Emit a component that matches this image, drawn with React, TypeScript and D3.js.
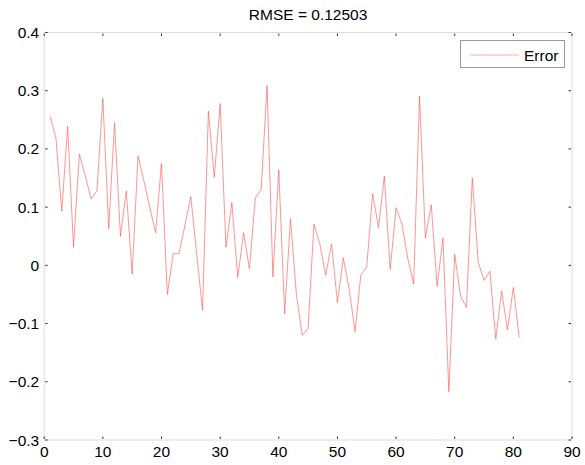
import React from "react";
import * as d3 from "d3";

const xValues: number[] = Array.from({ length: 81 }, (_, i) => i + 1);
const errorValues: number[] = [
  0.256, 0.219, 0.093, 0.239, 0.031, 0.191, 0.154, 0.114, 0.128, 0.287,
  0.063, 0.245, 0.05, 0.128, -0.015, 0.188, 0.145, 0.1, 0.056, 0.175,
  -0.05, 0.02, 0.02, 0.069, 0.118, 0.02, -0.077, 0.265, 0.151, 0.278,
  0.031, 0.108, -0.021, 0.056, -0.006, 0.116, 0.13, 0.309, -0.02, 0.164,
  -0.083, 0.08, -0.05, -0.12, -0.108, 0.071, 0.037, -0.017, 0.037, -0.064,
  0.013, -0.04, -0.114, -0.016, -0.003, 0.123, 0.065, 0.153, -0.007, 0.099,
  0.071, 0.012, -0.032, 0.291, 0.047, 0.104, -0.036, 0.047, -0.217, 0.019,
  -0.053, -0.072, 0.15, 0.006, -0.026, -0.01, -0.127, -0.044, -0.111, -0.038,
  -0.124,
];
const xTicks: number[] = [0, 10, 20, 30, 40, 50, 60, 70, 80, 90];
const yTicks: number[] = [-0.3, -0.2, -0.1, 0, 0.1, 0.2, 0.3, 0.4];
const titleText = "RMSE = 0.12503";
const legendLabel = "Error";

export default function App() {
  const W = 585, H = 465;
  const L = 44.2, R = 572, T = 32.5, B = 440;
  const x = d3.scaleLinear().domain([0, 90]).range([L, R]);
  const y = d3.scaleLinear().domain([-0.3, 0.4]).range([B, T]);
  const line = d3
    .line<number>()
    .x((_, i) => x(xValues[i]))
    .y((d) => y(d));
  const font = "Liberation Sans, Arial, sans-serif";
  const tickColor = "#333";
  const tl = 2.5;
  const fs = 15.5;
  const fmt = (t: number) => {
    const s = d3.format(".1f")(t);
    return s === "0.0" || s === "-0.0" ? "0" : s;
  };
  return (
    <svg
      width={W}
      height={H}
      style={{ position: "absolute", left: 0, top: 0, background: "#fff" }}
      fontFamily={font}
    >
      <rect x={0} y={0} width={W} height={H} fill="#fff" />
      {/* axes box */}
      <rect x={L} y={T} width={R - L} height={B - T} fill="none" stroke="#dcdcdc" strokeWidth={1} />
      {/* x ticks */}
      {xTicks.map((t) => (
        <g key={"xt" + t}>
          <line x1={x(t)} x2={x(t)} y1={T + 1} y2={T + 1 + tl} stroke={tickColor} strokeWidth={1} />
          <line x1={x(t)} x2={x(t)} y1={B - 1} y2={B - 1 - tl} stroke={tickColor} strokeWidth={1} />
          <text x={x(t)} y={B + 17} fontSize={fs} textAnchor="middle" fill="#000">
            {t}
          </text>
        </g>
      ))}
      {/* y ticks */}
      {yTicks.map((t) => (
        <g key={"yt" + t}>
          <line x1={L + 1} x2={L + 1 + tl} y1={y(t)} y2={y(t)} stroke={tickColor} strokeWidth={1} />
          <line x1={R - 1} x2={R - 1 - tl} y1={y(t)} y2={y(t)} stroke={tickColor} strokeWidth={1} />
          <text x={L - 5} y={y(t) + 5.5} fontSize={fs} textAnchor="end" fill="#000">
            {fmt(t)}
          </text>
        </g>
      ))}
      {/* data line */}
      <path d={line(errorValues) || ""} fill="none" stroke="#ff4d4d" strokeWidth={0.8} strokeOpacity={0.75} />
      {/* title */}
      <text x={(L + R) / 2} y={20} fontSize={fs} textAnchor="middle" fill="#000">
        {titleText}
      </text>
      {/* legend */}
      <rect x={460.5} y={40.5} width={104} height={27} fill="#fff" stroke="#999" strokeWidth={1} />
      <line x1={470} x2={519} y1={55} y2={55} stroke="#ff4d4d" strokeWidth={0.8} strokeOpacity={0.6} />
      <text x={524} y={60.5} fontSize={fs} fill="#000">
        {legendLabel}
      </text>
    </svg>
  );
}
